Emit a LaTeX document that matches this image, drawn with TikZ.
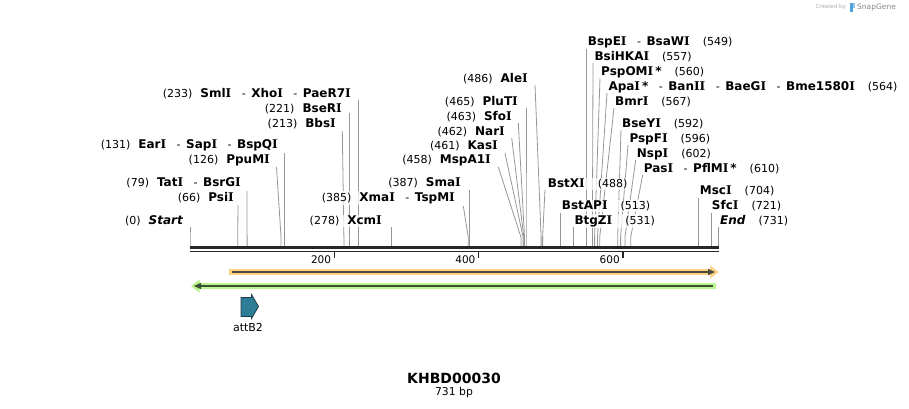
\documentclass[tikz,border=0pt]{standalone}
\usepackage{fontspec}
\setmainfont{DejaVu Sans}
\newfontfamily\serifI{DejaVu Serif}
\usetikzlibrary{arrows.meta}
\definecolor{sitegray}{RGB}{150,150,150}
\definecolor{orband}{RGB}{255,207,130}
\definecolor{orline}{RGB}{75,72,60}
\definecolor{grband}{RGB}{185,245,140}
\definecolor{grline}{RGB}{60,78,52}
\definecolor{attfill}{RGB}{46,125,150}
\definecolor{attdraw}{RGB}{30,60,72}
\definecolor{wmgray}{RGB}{170,170,170}
\definecolor{wmblue}{RGB}{80,160,220}
\newcommand\nm[1]{{\fontsize{12}{13}\selectfont\bfseries #1}}
\newcommand\I{{\serifI I}}
\newcommand\sepd{\hspace{10.5pt}-\hspace{5.5pt}}
\newcommand\gp{\hspace{8pt}}
\newcommand\gr{\hspace{13pt}}
\tikzset{
  lbl/.style={font=\fontsize{11}{13}\selectfont, inner sep=1pt, fill=white, fill opacity=0.75, text opacity=1},
  lleft/.style={lbl, anchor=east},
  lright/.style={lbl, anchor=west},
  siteline/.style={draw=sitegray, line width=0.8pt},
  ticklbl/.style={font=\fontsize{10.5}{12}\selectfont, anchor=east, inner sep=0pt}
}
\begin{document}
\begin{tikzpicture}[x=1pt,y=-1pt]
\useasboundingbox (0,0) rectangle (909,409);
% site lines: name/site x/top x/top y
\foreach \n/\sx/\tx/\ty in {
 Start/190/190/227, PsiI/237.7/238/205, TatI/247.1/247/191, PpuMI/281/276.5/167,
 EarI/284.6/284.6/153, BbsI/343.9/342.3/131, BseRI/349.7/349.7/113, SmlI/358.3/358.3/100,
 XcmI/390.9/390.9/227, XmaI/468.2/463.3/206, SmaI/469.6/469.6/190, MspA/520.9/498.3/167,
 KasI/523.1/505/153, NarI/523.8/511.7/138, SfoI/524.5/518.3/123, PluTI/526/526/108,
 AleI/541.1/535/85, BstXI/542.6/545/190, BstAPI/560.6/560.6/213, BtgZI/573.6/573.6/227,
 BspEI/586.7/586.7/49, BsiHKAI/592.4/593/63, PspOMI/594.6/600/78, ApaI/597.5/607/93,
 BmrI/599.7/614/108, BseYI/617.7/621/130, PspFI/620.6/628/145, NspI/625/635.7/160,
 PasI/630.7/642.7/175, MscI/698.6/698.6/198, SfcI/711/711/213, End/718.5/718.5/227}{
  \coordinate (s\n) at (\sx,246);
  \coordinate (b\n) at (\sx,237);
  \coordinate (t\n) at (\tx,\ty);
  \draw[siteline] (s\n) -- (b\n) -- (t\n);
}
% left labels
\node[lleft] (lStart) at (184,221) {(0)\gp\nm{\itshape Start}};
\node[lleft] (lPsiI) at (235,198) {(66)\gp\nm{Psi\I}};
\node[lleft] (lTatI) at (242,183) {(79)\gp\nm{Tat\I}\sepd\nm{BsrG\I}};
\node[lleft] (lPpuMI) at (271,160) {(126)\gp\nm{PpuM\I}};
\node[lleft] (lEarI) at (279,145) {(131)\gp\nm{Ear\I}\sepd\nm{Sap\I}\sepd\nm{BspQ\I}};
\node[lleft] (lBbsI) at (337,124) {(213)\gp\nm{Bbs\I}};
\node[lleft] (lBseRI) at (343,109) {(221)\gp\nm{BseR\I}};
\node[lleft] (lSmlI) at (352,94) {(233)\gp\nm{Sml\I}\sepd\nm{Xho\I}\sepd\nm{PaeR7\I}};
\node[lleft] (lXcmI) at (383,221) {(278)\gp\nm{Xcm\I}};
\node[lleft] (lXmaI) at (456,198) {(385)\gp\nm{Xma\I}\sepd\nm{TspM\I}};
\node[lleft] (lSmaI) at (462,183) {(387)\gp\nm{Sma\I}};
\node[lleft] (lMspA) at (492,160) {(458)\gp\nm{MspA1\I}};
\node[lleft] (lKasI) at (499,146) {(461)\gp\nm{Kas\I}};
\node[lleft] (lNarI) at (506,132) {(462)\gp\nm{Nar\I}};
\node[lleft] (lSfoI) at (513,117) {(463)\gp\nm{Sfo\I}};
\node[lleft] (lPluTI) at (519,102) {(465)\gp\nm{PluT\I}};
\node[lleft] (lAleI) at (529,79) {(486)\gp\nm{Ale\I}};
% right labels
\node[lright] (lBstXI) at (546.7,184) {\nm{BstX\I}\gr(488)};
\node[lright] (lBstAPI) at (560.7,206) {\nm{BstAP\I}\gr(513)};
\node[lright] (lBtgZI) at (573.3,221) {\nm{BtgZ\I}\gr(531)};
\node[lright] (lBspEI) at (586.7,42) {\nm{BspE\I}\sepd\nm{BsaW\I}\gr(549)};
\node[lright] (lBsiHKAI) at (593.3,57) {\nm{BsiHKA\I}\gr(557)};
\node[lright] (lPspOMI) at (600,72) {\nm{PspOM\I\,*}\gr(560)};
\node[lright] (lApaI) at (607.3,87) {\nm{Apa\I\,*}\sepd\nm{Ban\I\I}\sepd\nm{BaeG\I}\sepd\nm{Bme1580\I}\gr(564)};
\node[lright] (lBmrI) at (614,102) {\nm{Bmr\I}\gr(567)};
\node[lright] (lBseYI) at (621,124) {\nm{BseY\I}\gr(592)};
\node[lright] (lPspFI) at (628.3,139) {\nm{PspF\I}\gr(596)};
\node[lright] (lNspI) at (635.7,154) {\nm{Nsp\I}\gr(602)};
\node[lright] (lPasI) at (642.7,169) {\nm{Pas\I}\sepd\nm{PflM\I\,*}\gr(610)};
\node[lright] (lMscI) at (698.7,191) {\nm{Msc\I}\gr(704)};
\node[lright] (lSfcI) at (710.7,206) {\nm{Sfc\I}\gr(721)};
\node[lright] (lEnd) at (719,221) {\nm{\itshape End}\gr(731)};
% backbone
\coordinate (bbL) at (190,247);
\coordinate (bbR) at (719,247);
\draw[line width=3pt, black!85] (bbL) -- (bbR);
\draw[line width=1.6pt, black!85] ([yshift=-4.5pt]bbL) -- ([yshift=-4.5pt]bbR);
\foreach \p/\xx in {200/334.3, 400/478.6, 600/622.9}{
  \coordinate (tk\p) at (\xx,251);
  \draw[line width=1.6pt, black!85] (tk\p) -- ++(0,7);
  \node[ticklbl] (tl\p) at (\xx-3,259.5) {\p};
}
% orange feature (forward)
\coordinate (oA) at (229,272);
\coordinate (oB) at (718,272);
\fill[orband] (229,269) rectangle (711,275);
\fill[orband] (710,265.5) -- (718.5,272) -- (710,278.5) -- cycle;
\draw[orline, line width=1.4pt, -{Triangle[length=7pt,width=6pt]}] ([xshift=3pt]oA) -- ([xshift=-3pt]oB);
% green feature (reverse)
\coordinate (gA) at (191,286);
\coordinate (gB) at (716,286);
\fill[grband] (199,283) rectangle (716,289);
\fill[grband] (199.5,279.5) -- (191,286) -- (199.5,292.5) -- cycle;
\draw[grline, line width=1.4pt, -{Triangle[length=7pt,width=6pt]}] ([xshift=-3pt]gB) -- ([xshift=3pt]gA);
% attB2
\draw[fill=attfill, draw=attdraw, line width=0.8pt] (241,297.5) -- (251.5,297.5) -- (251.5,294.5) -- (258.5,306.5) -- (251.5,318.5) -- (251.5,316.5) -- (241,316.5) -- cycle;
\node[font=\fontsize{11}{13}\selectfont, inner sep=0pt] (attlbl) at (248,327) {attB2};
% title
\node[font=\fontsize{14}{16}\selectfont\bfseries, inner sep=0pt] (title) at (454,378) {KHBD00030};
\node[font=\fontsize{10.8}{12}\selectfont, inner sep=0pt] (bp) at (454,393) {731 bp};
% watermark
\node[font=\fontsize{5.5}{6}\selectfont, text=wmgray, anchor=east, inner sep=0pt] (wm1) at (846,7) {Created by};
\fill[wmblue] (850,3) rectangle (852.5,12);
\fill[wmblue!60] (852.5,3) rectangle (855,8);
\node[font=\fontsize{7.5}{8}\selectfont, text=wmgray!80!black, anchor=west, inner sep=0pt] (wm2) at (857,7) {SnapGene};
\end{tikzpicture}
\end{document}
